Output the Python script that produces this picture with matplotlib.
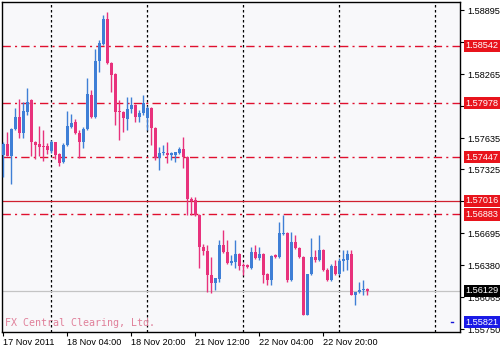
import numpy as np
import matplotlib
matplotlib.use("Agg")
import matplotlib.pyplot as plt
import matplotlib.transforms as mtransforms

# H1 bars, 17 Nov 2011 12:00 onwards
opens = [1.57468, 1.57576, 1.57458, 1.57724, 1.57842, 1.57685, 1.57891, 1.58009, 1.57596, 1.57576,
         1.57557, 1.57557, 1.57508, 1.57596, 1.57478, 1.57399, 1.57567, 1.57744, 1.57793, 1.57685,
         1.57596, 1.57724, 1.58059, 1.57842, 1.58393, 1.58560, 1.58806, 1.58373, 1.58265, 1.57901,
         1.57891, 1.57822, 1.57921, 1.57960, 1.57842, 1.57882, 1.57832, 1.57931, 1.57734, 1.57439,
         1.57488, 1.57488, 1.57468, 1.57468, 1.57488, 1.57527, 1.57449, 1.57035, 1.57025, 1.56878,
         1.56563, 1.56524, 1.56287, 1.56209, 1.56248, 1.56583, 1.56514, 1.56405, 1.56415, 1.56494,
         1.56386, 1.56386, 1.56356, 1.56514, 1.56455, 1.56494, 1.56297, 1.56238, 1.56484, 1.56464,
         1.56691, 1.56701, 1.56238, 1.56612, 1.56553, 1.56464, 1.55894, 1.56297, 1.56464, 1.56435,
         1.56533, 1.56337, 1.56238, 1.56376, 1.56297, 1.56425, 1.56435, 1.56494, 1.56091, 1.56120,
         1.56140, 1.56150]
highs = [1.57596, 1.57695, 1.57734, 1.57931, 1.58019, 1.57990, 1.58128, 1.58019, 1.57606, 1.57754,
         1.57714, 1.57586, 1.57616, 1.57596, 1.57488, 1.57586, 1.57901, 1.57872, 1.57822, 1.57714,
         1.57744, 1.58226, 1.58108, 1.58511, 1.58600, 1.58846, 1.58875, 1.58383, 1.58275, 1.58009,
         1.57901, 1.58039, 1.58039, 1.57970, 1.57911, 1.58059, 1.57950, 1.57941, 1.57744, 1.57547,
         1.57567, 1.57596, 1.57498, 1.57478, 1.57547, 1.57645, 1.57458, 1.57055, 1.57055, 1.56888,
         1.56592, 1.56583, 1.56464, 1.56258, 1.56632, 1.56730, 1.56632, 1.56484, 1.56632, 1.56504,
         1.56405, 1.56396, 1.56563, 1.56583, 1.56563, 1.56504, 1.56307, 1.56484, 1.56494, 1.56809,
         1.56878, 1.56710, 1.56710, 1.56681, 1.56563, 1.56474, 1.56297, 1.56652, 1.56533, 1.56681,
         1.56543, 1.56356, 1.56396, 1.56435, 1.56455, 1.56533, 1.56533, 1.56533, 1.56120, 1.56218,
         1.56238, 1.56159]
lows = [1.57252, 1.57458, 1.57183, 1.57714, 1.57636, 1.57636, 1.57862, 1.57458, 1.57429, 1.57458,
        1.57409, 1.57478, 1.57488, 1.57429, 1.57360, 1.57390, 1.57557, 1.57734, 1.57675, 1.57439,
        1.57537, 1.57714, 1.57832, 1.57832, 1.58285, 1.58551, 1.58364, 1.58088, 1.57763, 1.57616,
        1.57695, 1.57714, 1.57882, 1.57793, 1.57793, 1.57862, 1.57714, 1.57567, 1.57419, 1.57321,
        1.57468, 1.57390, 1.57419, 1.57399, 1.57478, 1.57340, 1.56878, 1.56878, 1.56868, 1.56356,
        1.56484, 1.56120, 1.56110, 1.56140, 1.56218, 1.56504, 1.56396, 1.56386, 1.56356, 1.56337,
        1.56287, 1.56356, 1.56346, 1.56445, 1.56435, 1.56209, 1.56189, 1.56189, 1.56455, 1.56455,
        1.56681, 1.56218, 1.56228, 1.56543, 1.56455, 1.55894, 1.55894, 1.56287, 1.56415, 1.56425,
        1.56327, 1.56228, 1.56228, 1.56287, 1.56287, 1.56327, 1.56337, 1.56091, 1.55992, 1.56110,
        1.56091, 1.56091]
closes = [1.57576, 1.57458, 1.57724, 1.57842, 1.57685, 1.57901, 1.57990, 1.57596, 1.57567, 1.57547,
          1.57547, 1.57517, 1.57596, 1.57468, 1.57390, 1.57567, 1.57754, 1.57783, 1.57685, 1.57596,
          1.57724, 1.58068, 1.57842, 1.58393, 1.58570, 1.58806, 1.58373, 1.58255, 1.57891, 1.57891,
          1.57832, 1.57921, 1.57960, 1.57842, 1.57882, 1.57980, 1.57931, 1.57734, 1.57439, 1.57488,
          1.57498, 1.57468, 1.57488, 1.57498, 1.57527, 1.57449, 1.57035, 1.57016, 1.56878, 1.56563,
          1.56524, 1.56287, 1.56209, 1.56258, 1.56583, 1.56514, 1.56405, 1.56425, 1.56494, 1.56376,
          1.56376, 1.56366, 1.56514, 1.56455, 1.56494, 1.56287, 1.56238, 1.56474, 1.56464, 1.56701,
          1.56701, 1.56238, 1.56612, 1.56553, 1.56464, 1.55894, 1.56297, 1.56464, 1.56435, 1.56533,
          1.56337, 1.56238, 1.56376, 1.56297, 1.56425, 1.56445, 1.56494, 1.56091, 1.56120, 1.56140,
          1.56150, 1.56129]

date_ticks = [0, 16, 32, 48, 64, 80]
date_labels = ["17 Nov 2011", "18 Nov 04:00", "18 Nov 20:00", "21 Nov 12:00",
               "22 Nov 04:00", "22 Nov 20:00"]
grid_bars = [12, 36, 60, 84, 108]
price_ticks = [1.58895, 1.58580, 1.58265, 1.57950, 1.57635, 1.57325, 1.57010,
               1.56695, 1.56380, 1.56065, 1.55750]
hidden_ticks = [1.57950, 1.57010]   # fully covered by the level boxes
dashdot_levels = [1.58542, 1.57978, 1.57447, 1.56883]
solid_level = 1.57016
bid_price = 1.56129
low_mark = 1.55821
low_mark_bar = 112.2

BULL = "#3f7fd6"
BEAR = "#e8327c"
LINE_RED = "#e0102e"
BOX_RED = "#e8141c"

plt.rcParams["font.family"] = ["Liberation Sans", "DejaVu Sans"]

fig = plt.figure(figsize=(5, 3.5), dpi=100)
fig.patch.set_facecolor("white")
ax = fig.add_axes([2 / 500, 18 / 350, 458 / 500, 330 / 350])
ax.set_facecolor("#f8f8fa")

o = np.array(opens)
h = np.array(highs)
l = np.array(lows)
c = np.array(closes)
x = np.arange(len(o))
cols = [BULL if cc >= oo else BEAR for oo, cc in zip(o, c)]

# grid + levels first, candles on top
for gb in grid_bars:
    ax.axvline(gb, color="black", lw=0.9, ls=(0, (2, 2)), zorder=1)
for lv in dashdot_levels:
    ax.axhline(lv, color=LINE_RED, lw=1.0, ls=(0, (6, 3, 1.5, 3)), zorder=1)
ax.axhline(solid_level, color="#d0202e", lw=0.9, zorder=1)
ax.axhline(bid_price, color="#c4c4c4", lw=0.9, zorder=1)
ax.plot([low_mark_bar - 0.3, low_mark_bar + 0.3], [low_mark, low_mark], color="#1414d8", lw=1, zorder=2)

ax.vlines(x, l, h, colors=cols, lw=1.0, zorder=3)
body_lo = np.minimum(o, c)
body_h = np.maximum(np.abs(c - o), 0.00008)
ax.bar(x, body_h, bottom=body_lo, width=0.72, color=cols, linewidth=0, zorder=4)

ax.set_xlim(-0.33, 114.2)
ax.set_ylim(1.55725, 1.58974)

ax.yaxis.tick_right()
ax.set_yticks(price_ticks)
ax.set_yticklabels(["" if p in hidden_ticks else "%.5f" % p for p in price_ticks])
ax.tick_params(axis="y", length=3, width=0.8, pad=2, labelsize=6.6, colors="black")
ax.set_xticks(date_ticks)
ax.set_xticklabels(date_labels)
for lbl in ax.get_xticklabels():
    lbl.set_ha("left")
ax.tick_params(axis="x", length=3, width=0.8, pad=1.5, labelsize=6.6)
for sp in ax.spines.values():
    sp.set_color("black")
    sp.set_linewidth(1.0)

# price boxes on the right scale
trans = mtransforms.blended_transform_factory(fig.transFigure, ax.transData)
boxes = [(lv, BOX_RED) for lv in dashdot_levels] + [(solid_level, BOX_RED),
                                                    (bid_price, "black"), (low_mark, "#1a1ae6")]
for lv, fc in boxes:
    ax.text(465.5 / 500, lv, "%.5f" % lv, transform=trans, fontsize=6.6, color="white",
            va="center", ha="left", clip_on=False, zorder=10,
            bbox=dict(boxstyle="square,pad=0.18", fc=fc, ec="none"))

ax.text(0.006, 0.028, "FX Central Clearing, Ltd.", transform=ax.transAxes,
        family="DejaVu Sans Mono", fontsize=7.2, color="#e0809a", va="center", ha="left", zorder=5)

fig.savefig("out.png", dpi=100)
